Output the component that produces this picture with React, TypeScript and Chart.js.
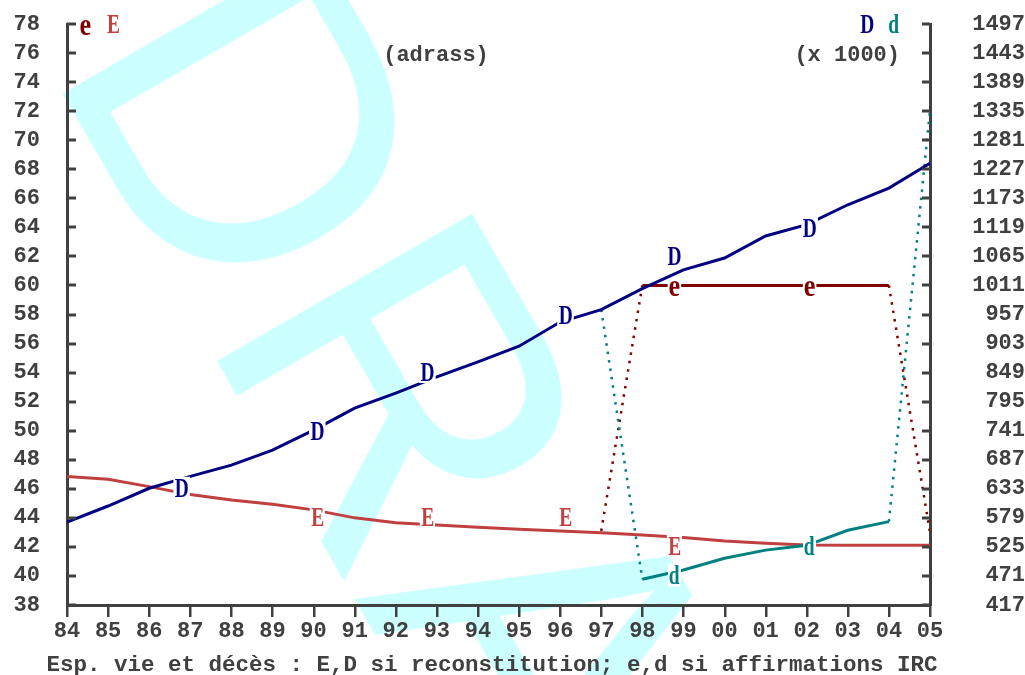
import { useEffect, useRef } from 'react';
import { Chart, registerables } from 'chart.js';

Chart.register(...registerables);

// ---- data ----
const years = [1984, 1985, 1986, 1987, 1988, 1989, 1990, 1991, 1992, 1993, 1994, 1995, 1996, 1997, 1998, 1999, 2000, 2001, 2002, 2003, 2004, 2005];
const yearTickLabels = ['84', '85', '86', '87', '88', '89', '90', '91', '92', '93', '94', '95', '96', '97', '98', '99', '00', '01', '02', '03', '04', '05'];
const leftTicks = [38, 40, 42, 44, 46, 48, 50, 52, 54, 56, 58, 60, 62, 64, 66, 68, 70, 72, 74, 76, 78];
const rightTicks = [417, 471, 525, 579, 633, 687, 741, 795, 849, 903, 957, 1011, 1065, 1119, 1173, 1227, 1281, 1335, 1389, 1443, 1497];

// E : life expectancy (reconstitution), left axis
const lifeExpE = [46.84, 46.65, 46.15, 45.6, 45.23, 44.93, 44.55, 44.0, 43.67, 43.51, 43.35, 43.21, 43.1, 42.97, 42.82, 42.65, 42.41, 42.25, 42.13, 42.11, 42.11, 42.11];
// D : deaths x1000 (reconstitution), right axis
const deathsD = [571, 601, 634, 656, 677, 705, 742, 783, 811, 841, 869, 898, 943, 966, 1005, 1040, 1062, 1103, 1124, 1161, 1192, 1238];
// e : life expectancy (IRC claims), left axis
const claimYearsE = [1997, 1998, 2004, 2005];
const lifeExpClaimE = [43.1, 60, 60, 43.0];
const dottedSegE = [0, 2];
// d : deaths x1000 (IRC claims), right axis
const claimYearsD = [1997, 1998, 1999, 2000, 2001, 2002, 2003, 2004, 2005];
const deathsClaimD = [966, 465, 482, 504, 519, 528, 556, 572, 1337];
const dottedSegD = [0, 7];

// letter markers along the curves
const markerDYears = [1986.79, 1990.09, 1992.77, 1996.13, 1998.78, 2002.07];
const markerDValues = [635, 740, 850, 956, 1066, 1118];
const markerEYears = [1990.09, 1992.77, 1996.13, 1998.78];
const markerEValues = [44.06, 44.06, 44.06, 42.06];
const markerEcYears = [1998.78, 2002.07];
const markerEcValues = [59.76, 59.76];
const markerDcYears = [1998.78, 2002.07];
const markerDcValues = [473, 527];

// ---- styles ----
const AXIS = '#404040';
const RED = '#c04040';
const MAROON = '#800000';
const NAVY = '#000080';
const TEAL = '#008080';
const CYAN = '#ccffff';
const MONO = '"Liberation Mono", "DejaVu Sans Mono", monospace';
const SERIF = '"Liberation Serif", "DejaVu Serif", serif';
const tickFont = { family: MONO, size: 22, weight: 'bold' as const, lineHeight: 1 };

function drawGlyph(ctx: CanvasRenderingContext2D, ch: string, cx: number, cy: number, color: string, bg: boolean) {
  const small = ch === 'e';
  ctx.save();
  ctx.translate(cx, cy);
  ctx.scale(small ? 0.85 : 0.72, 1);
  ctx.font = 'bold ' + (small ? 31 : 27) + 'px ' + SERIF;
  ctx.textAlign = 'left';
  ctx.textBaseline = 'alphabetic';
  const m = ctx.measureText(ch);
  const w = m.actualBoundingBoxLeft + m.actualBoundingBoxRight;
  const h = m.actualBoundingBoxAscent + m.actualBoundingBoxDescent;
  const dx = (m.actualBoundingBoxLeft - m.actualBoundingBoxRight) / 2;
  const dy = (m.actualBoundingBoxAscent - m.actualBoundingBoxDescent) / 2;
  if (bg) {
    ctx.fillStyle = '#ffffff';
    ctx.fillRect(-w / 2 - 2, -h / 2 - 2, w + 4, h + 4);
  }
  ctx.fillStyle = color;
  ctx.fillText(ch, dx, dy);
  ctx.restore();
}

const decorPlugin = {
  id: 'decor',
  beforeDraw(chart: any) {
    const ctx = chart.ctx as CanvasRenderingContext2D;
    ctx.save();
    ctx.fillStyle = '#ffffff';
    ctx.fillRect(0, 0, chart.width, chart.height);
    ctx.translate(45, 63);
    ctx.rotate(Math.PI / 3);
    ctx.font = '428px "Liberation Sans", Arial, sans-serif';
    ctx.fillStyle = CYAN;
    ctx.textBaseline = 'alphabetic';
    ctx.fillText('DRAFT', 0, 0);
    ctx.restore();
  },
  afterDatasetsDraw(chart: any) {
    const ctx = chart.ctx as CanvasRenderingContext2D;
    const sx = chart.scales.x, sy = chart.scales.y, sy1 = chart.scales.y1;
    const groups = [
      { xs: markerEYears, ys: markerEValues, s: sy, ch: 'E', c: RED },
      { xs: markerEcYears, ys: markerEcValues, s: sy, ch: 'e', c: MAROON },
      { xs: markerDcYears, ys: markerDcValues, s: sy1, ch: 'd', c: TEAL },
      { xs: markerDYears, ys: markerDValues, s: sy1, ch: 'D', c: NAVY },
    ];
    for (const g of groups) {
      g.xs.forEach((xv, i) => {
        drawGlyph(ctx, g.ch, sx.getPixelForValue(xv), g.s.getPixelForValue(g.ys[i]), g.c, true);
      });
    }
  },
  afterDraw(chart: any) {
    const ctx = chart.ctx as CanvasRenderingContext2D;
    const a = chart.chartArea;
    const sx = chart.scales.x, sy = chart.scales.y, sy1 = chart.scales.y1;
    ctx.save();
    ctx.fillStyle = AXIS;
    sy.ticks.forEach((t: any) => {
      const p = sy.getPixelForValue(t.value);
      ctx.fillRect(a.left, Math.round(p) - 1.5, 9, 3);
    });
    sy1.ticks.forEach((t: any) => {
      const p = sy1.getPixelForValue(t.value);
      ctx.fillRect(a.right - 8, Math.round(p) - 1.5, 8, 3);
    });
    sx.ticks.forEach((t: any) => {
      const p = sx.getPixelForValue(t.value);
      ctx.fillRect(Math.round(p) - 1, a.bottom, 2.5, 12);
    });
    // titles
    ctx.font = 'bold 22px ' + MONO;
    ctx.textBaseline = 'middle';
    ctx.textAlign = 'center';
    ctx.fillText('(adrass)', 436, 55);
    ctx.textAlign = 'right';
    ctx.fillText('(x 1000)', 900, 55);
    ctx.font = 'bold 22.5px ' + MONO;
    ctx.textAlign = 'center';
    ctx.textBaseline = 'alphabetic';
    ctx.fillText('Esp. vie et décès : E,D si reconstitution; e,d si affirmations IRC', 492, 671);
    ctx.restore();
    // legends
    drawGlyph(ctx, 'e', a.left + 18.5, 27.5, MAROON, false);
    drawGlyph(ctx, 'E', a.left + 46, 24, RED, false);
    drawGlyph(ctx, 'D', a.right - 63, 23.5, NAVY, false);
    drawGlyph(ctx, 'd', a.right - 36, 23.5, TEAL, false);
  },
};

export default function App() {
  const ref = useRef<HTMLCanvasElement>(null);
  useEffect(() => {
    const segStyle = (dotted: number[]) => ({
      borderDash: (c: any) => (dotted.includes(c.p0DataIndex) ? [2.5, 6] : undefined),
      borderWidth: (c: any) => (dotted.includes(c.p0DataIndex) ? 2.5 : undefined),
    });
    const fitY = (w: number) => (s: any) => {
      s.width = w;
      s.paddingTop = 0;
      s.paddingBottom = 0;
    };
    const chart = new Chart(ref.current!, {
      type: 'line',
      data: {
        datasets: [
          {
            label: 'D',
            data: years.map((x, i) => ({ x, y: deathsD[i] })),
            yAxisID: 'y1',
            borderColor: NAVY,
            borderWidth: 3,
            pointRadius: 0,
            tension: 0,
          },
          {
            label: 'd',
            data: claimYearsD.map((x, i) => ({ x, y: deathsClaimD[i] })),
            yAxisID: 'y1',
            borderColor: TEAL,
            borderWidth: 3,
            pointRadius: 0,
            segment: segStyle(dottedSegD),
          },
          {
            label: 'e',
            data: claimYearsE.map((x, i) => ({ x, y: lifeExpClaimE[i] })),
            yAxisID: 'y',
            borderColor: MAROON,
            borderWidth: 3,
            pointRadius: 0,
            segment: segStyle(dottedSegE),
          },
          {
            label: 'E',
            data: years.map((x, i) => ({ x, y: lifeExpE[i] })),
            yAxisID: 'y',
            borderColor: RED,
            borderWidth: 3,
            pointRadius: 0,
          },
        ],
      },
      options: {
        animation: false,
        responsive: true,
        maintainAspectRatio: false,
        layout: { padding: { top: 24, left: 0, right: 0, bottom: 0 } },
        plugins: { legend: { display: false }, tooltip: { enabled: false }, title: { display: false } },
        scales: {
          x: {
            type: 'linear',
            min: 1984,
            max: 2005,
            afterBuildTicks: (s: any) => { s.ticks = years.map((v) => ({ value: v })); },
            afterFit: (s: any) => { s.height = 70; s.paddingLeft = 0; s.paddingRight = 0; },
            grid: { display: false, drawTicks: false },
            border: { display: true, color: AXIS, width: 3 },
            ticks: {
              autoSkip: false,
              maxRotation: 0,
              minRotation: 0,
              padding: 15,
              font: tickFont,
              color: AXIS,
              callback: (_v: any, i: number) => yearTickLabels[i],
            },
          },
          y: {
            type: 'linear',
            position: 'left',
            min: 38,
            max: 78,
            afterBuildTicks: (s: any) => { s.ticks = leftTicks.map((v) => ({ value: v })); },
            afterFit: fitY(67),
            grid: { display: false, drawTicks: false },
            border: { display: true, color: AXIS, width: 3 },
            ticks: { autoSkip: false, padding: 27, font: tickFont, color: AXIS, callback: (v: any) => String(v) },
          },
          y1: {
            type: 'linear',
            position: 'right',
            min: 417,
            max: 1497,
            afterBuildTicks: (s: any) => { s.ticks = rightTicks.map((v) => ({ value: v })); },
            afterFit: fitY(95),
            grid: { display: false, drawTicks: false },
            border: { display: true, color: AXIS, width: 3 },
            ticks: { autoSkip: false, padding: 40, crossAlign: 'far', font: tickFont, color: AXIS, callback: (v: any) => String(v) },
          },
        },
      },
      plugins: [decorPlugin],
    } as any);
    return () => chart.destroy();
  }, []);
  return (
    <div style={{ position: 'fixed', left: 0, top: 0, width: 1025, height: 675, background: '#ffffff' }}>
      <canvas ref={ref} />
    </div>
  );
}
